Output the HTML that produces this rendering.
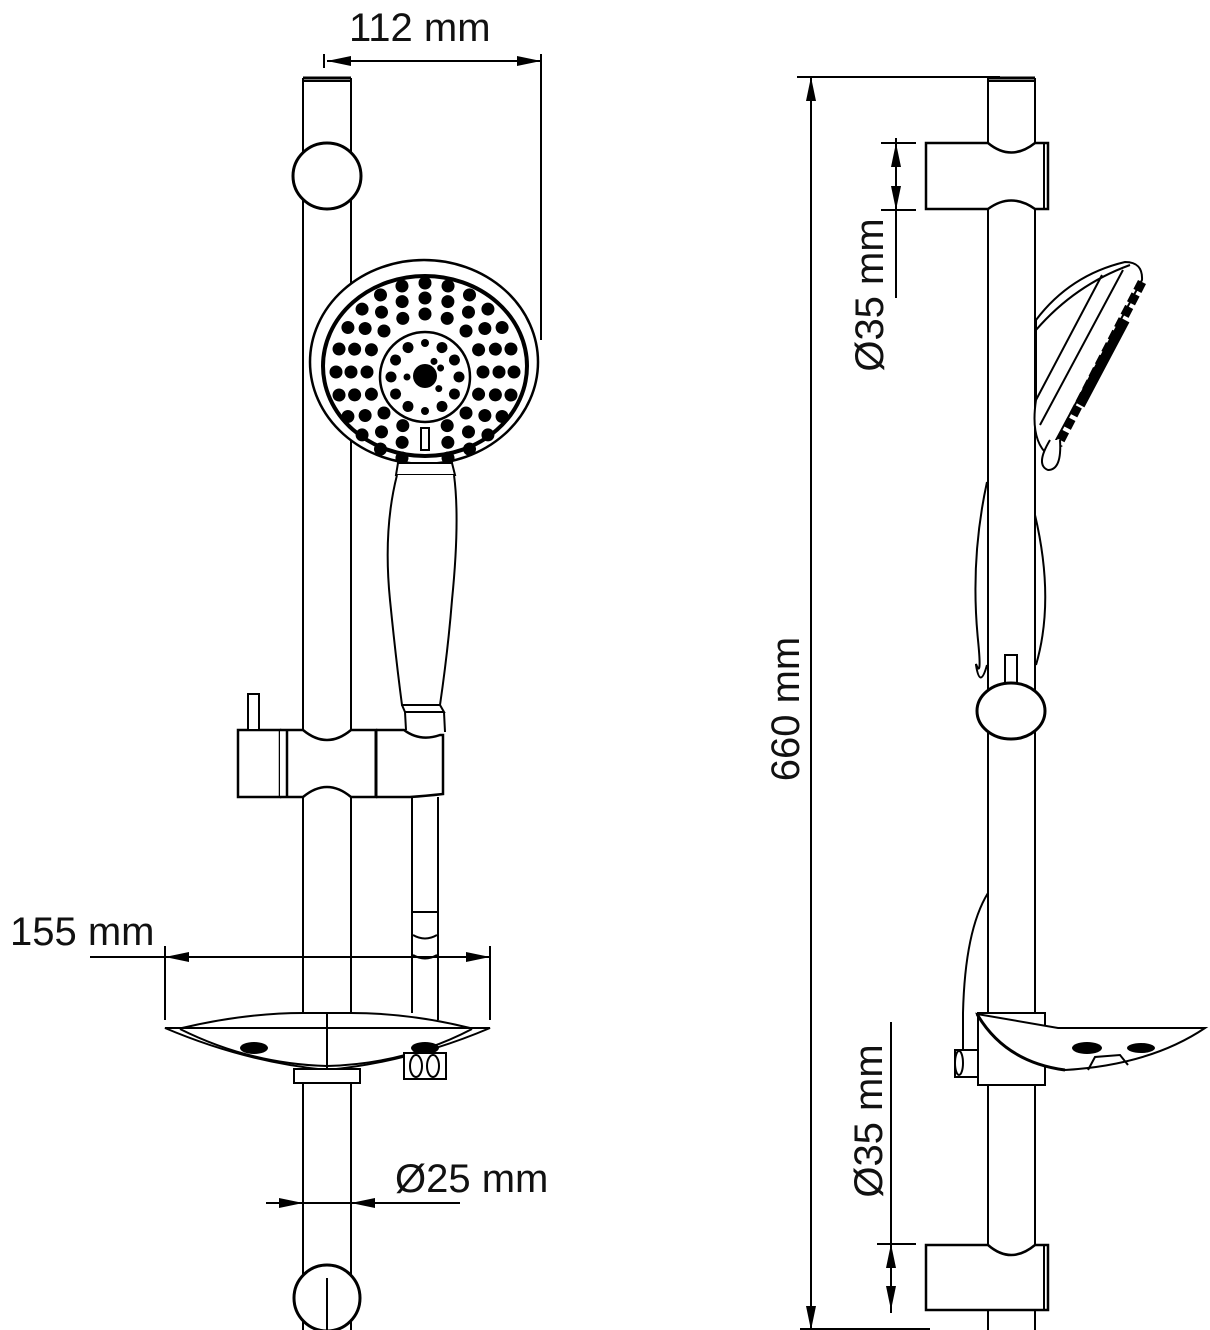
<!DOCTYPE html>
<html><head><meta charset="utf-8"><style>
html,body{margin:0;padding:0;background:#fff;}
svg{display:block;}
text{font-family:"Liberation Sans",sans-serif;font-size:40px;fill:#111;}
</style></head><body>
<svg width="1210" height="1330" viewBox="0 0 1210 1330" xmlns="http://www.w3.org/2000/svg">
<defs>
<marker id="ah" viewBox="0 0 24 10" refX="24" refY="5" markerWidth="24" markerHeight="10" markerUnits="userSpaceOnUse" orient="auto-start-reverse"><path d="M0,0 L24,5 L0,10 Z" fill="#000"/></marker>
</defs>
<g fill="none" stroke="#000" stroke-width="2">

<!-- ===== LEFT VIEW ===== -->
<line x1="303" y1="78" x2="303" y2="1013"/>
<line x1="351" y1="78" x2="351" y2="1013"/>
<line x1="303" y1="1083" x2="303" y2="1330"/>
<line x1="351" y1="1083" x2="351" y2="1330"/>
<line x1="303" y1="78" x2="351" y2="78" stroke-width="3"/>
<line x1="303" y1="81" x2="351" y2="81"/>
<ellipse cx="327" cy="176" rx="34" ry="33" fill="#fff" stroke-width="3"/>
<ellipse cx="327" cy="1298" rx="33" ry="33" fill="#fff" stroke-width="3"/>
<line x1="327" y1="1278" x2="327" y2="1330"/>

<!-- 112 dimension -->
<line x1="327" y1="61" x2="541" y2="61" marker-start="url(#ah)" marker-end="url(#ah)"/>
<line x1="541" y1="54" x2="541" y2="340"/>
<line x1="324" y1="54" x2="324" y2="68"/>

<!-- shower head -->
<ellipse cx="424" cy="362" rx="114" ry="102" fill="#fff" stroke-width="2.5"/>
<ellipse cx="425" cy="366" rx="102" ry="90" stroke-width="4"/>
<circle cx="425" cy="377" r="45" stroke-width="2.5"/>
<circle cx="425" cy="376" r="12" fill="#000" stroke="none"/>
<g fill="#000" stroke="none" transform="translate(425,372)">
 <g>
  <circle cx="58" cy="0" r="6.5"/><circle cx="58" cy="0" r="6.5" transform="rotate(22.5)"/><circle cx="58" cy="0" r="6.5" transform="rotate(45)"/><circle cx="58" cy="0" r="6.5" transform="rotate(67.5)"/>
  <circle cx="58" cy="0" r="6.5" transform="rotate(112.5)"/><circle cx="58" cy="0" r="6.5" transform="rotate(135)"/><circle cx="58" cy="0" r="6.5" transform="rotate(157.5)"/><circle cx="58" cy="0" r="6.5" transform="rotate(180)"/>
  <circle cx="58" cy="0" r="6.5" transform="rotate(202.5)"/><circle cx="58" cy="0" r="6.5" transform="rotate(225)"/><circle cx="58" cy="0" r="6.5" transform="rotate(247.5)"/><circle cx="58" cy="0" r="6.5" transform="rotate(270)"/>
  <circle cx="58" cy="0" r="6.5" transform="rotate(292.5)"/><circle cx="58" cy="0" r="6.5" transform="rotate(315)"/><circle cx="58" cy="0" r="6.5" transform="rotate(337.5)"/>
 </g>
 <g>
  <circle cx="74" cy="0" r="6.5"/><circle cx="74" cy="0" r="6.5" transform="rotate(18)"/><circle cx="74" cy="0" r="6.5" transform="rotate(36)"/><circle cx="74" cy="0" r="6.5" transform="rotate(54)"/><circle cx="74" cy="0" r="6.5" transform="rotate(72)"/>
  <circle cx="74" cy="0" r="6.5" transform="rotate(108)"/><circle cx="74" cy="0" r="6.5" transform="rotate(126)"/><circle cx="74" cy="0" r="6.5" transform="rotate(144)"/><circle cx="74" cy="0" r="6.5" transform="rotate(162)"/><circle cx="74" cy="0" r="6.5" transform="rotate(180)"/>
  <circle cx="74" cy="0" r="6.5" transform="rotate(198)"/><circle cx="74" cy="0" r="6.5" transform="rotate(216)"/><circle cx="74" cy="0" r="6.5" transform="rotate(234)"/><circle cx="74" cy="0" r="6.5" transform="rotate(252)"/><circle cx="74" cy="0" r="6.5" transform="rotate(270)"/>
  <circle cx="74" cy="0" r="6.5" transform="rotate(288)"/><circle cx="74" cy="0" r="6.5" transform="rotate(306)"/><circle cx="74" cy="0" r="6.5" transform="rotate(324)"/><circle cx="74" cy="0" r="6.5" transform="rotate(342)"/>
 </g>
 <g>
  <circle cx="89" cy="0" r="6.5"/><circle cx="89" cy="0" r="6.5" transform="rotate(15)"/><circle cx="89" cy="0" r="6.5" transform="rotate(30)"/><circle cx="89" cy="0" r="6.5" transform="rotate(45)"/><circle cx="89" cy="0" r="6.5" transform="rotate(60)"/><circle cx="89" cy="0" r="6.5" transform="rotate(75)"/>
  <circle cx="89" cy="0" r="6.5" transform="rotate(105)"/><circle cx="89" cy="0" r="6.5" transform="rotate(120)"/><circle cx="89" cy="0" r="6.5" transform="rotate(135)"/><circle cx="89" cy="0" r="6.5" transform="rotate(150)"/><circle cx="89" cy="0" r="6.5" transform="rotate(165)"/><circle cx="89" cy="0" r="6.5" transform="rotate(180)"/>
  <circle cx="89" cy="0" r="6.5" transform="rotate(195)"/><circle cx="89" cy="0" r="6.5" transform="rotate(210)"/><circle cx="89" cy="0" r="6.5" transform="rotate(225)"/><circle cx="89" cy="0" r="6.5" transform="rotate(240)"/><circle cx="89" cy="0" r="6.5" transform="rotate(255)"/><circle cx="89" cy="0" r="6.5" transform="rotate(270)"/>
  <circle cx="89" cy="0" r="6.5" transform="rotate(285)"/><circle cx="89" cy="0" r="6.5" transform="rotate(300)"/><circle cx="89" cy="0" r="6.5" transform="rotate(315)"/><circle cx="89" cy="0" r="6.5" transform="rotate(330)"/><circle cx="89" cy="0" r="6.5" transform="rotate(345)"/>
 </g>
</g>
<g fill="#000" stroke="none" transform="translate(425,377)">
  <circle cx="34" cy="0" r="5.5"/><circle cx="34" cy="0" r="5.5" transform="rotate(30)"/><circle cx="34" cy="0" r="5.5" transform="rotate(60)"/><circle cx="34" cy="0" r="4" transform="rotate(90)"/>
  <circle cx="34" cy="0" r="5.5" transform="rotate(120)"/><circle cx="34" cy="0" r="5.5" transform="rotate(150)"/><circle cx="34" cy="0" r="5.5" transform="rotate(180)"/><circle cx="34" cy="0" r="5.5" transform="rotate(210)"/>
  <circle cx="34" cy="0" r="5.5" transform="rotate(240)"/><circle cx="34" cy="0" r="4" transform="rotate(270)"/><circle cx="34" cy="0" r="5.5" transform="rotate(300)"/><circle cx="34" cy="0" r="5.5" transform="rotate(330)"/>
  <circle cx="18" cy="0" r="3.5" transform="rotate(-60)"/><circle cx="18" cy="0" r="3.5" transform="rotate(-30)"/><circle cx="18" cy="0" r="3.5" transform="rotate(180)"/><circle cx="18" cy="0" r="3.5" transform="rotate(40)"/>
</g>
<rect x="421" y="428" width="8" height="22" fill="#fff"/>
<!-- handle -->
<path d="M398,463 L452,463 L455,475 L396,475 Z" fill="#fff"/>
<path d="M397,475 Q383,530 390,600 Q396,660 402,705 L440,705 Q448,650 452,600 Q460,520 454,475" fill="#fff"/>
<path d="M402,705 L405,712 L444,712 L440,705"/>
<path d="M405,712 L406,730 M444,712 L445,732"/>
<!-- slider -->
<path d="M238,730 L238,797 L280,797 L280,730 Z" fill="#fff" stroke-width="2.5"/>
<rect x="248" y="694" width="11" height="36" fill="#fff"/>
<path d="M280,730 L303,730 Q327,750 351,730 L376,730 L376,797 L351,797 Q327,777 303,797 L280,797" fill="#fff" stroke-width="2.5"/>
<line x1="287" y1="730" x2="287" y2="797" stroke-width="2.5"/>
<path d="M376,730 L404,730 Q420,742 440,735 L443,735 L443,794 Q425,796 410,797 L376,797" fill="#fff" stroke-width="2.5"/>
<line x1="376" y1="730" x2="376" y2="797" stroke-width="3"/>
<!-- hose -->
<line x1="412" y1="797" x2="412" y2="1013"/>
<line x1="438" y1="797" x2="438" y2="1020"/>
<line x1="413" y1="912" x2="437" y2="912"/>
<path d="M413,935 Q425,942 437,935"/>
<path d="M413,955 Q425,962 437,955"/>

<!-- 155 dimension -->
<line x1="90" y1="957" x2="490" y2="957"/>
<line x1="165" y1="957" x2="198" y2="957" marker-start="url(#ah)"/>
<line x1="457" y1="957" x2="490" y2="957" marker-end="url(#ah)"/>
<line x1="165" y1="946" x2="165" y2="1020"/>
<line x1="490" y1="946" x2="490" y2="1020"/>

<!-- soap dish -->
<path d="M165,1028 L490,1028 Q410,1062 327,1070 Q245,1062 165,1028 Z" fill="#fff"/>
<path d="M182,1028 Q245,1013 303,1013 L351,1013 Q410,1013 470,1028"/>
<path d="M180,1029 Q250,1064 327,1066 Q405,1064 472,1029"/>
<line x1="327" y1="1013" x2="327" y2="1068"/>
<ellipse cx="254" cy="1048" rx="14" ry="6" fill="#000" stroke="none"/>
<ellipse cx="425" cy="1048" rx="14" ry="6" fill="#000" stroke="none"/>
<rect x="294" y="1069" width="66" height="14" fill="#fff"/>
<rect x="404" y="1053" width="42" height="26" fill="#fff"/>
<ellipse cx="416" cy="1066" rx="6" ry="11"/>
<ellipse cx="433" cy="1066" rx="6" ry="11"/>

<!-- 25 dimension -->
<line x1="266" y1="1203" x2="303" y2="1203" marker-end="url(#ah)"/>
<line x1="303" y1="1203" x2="351" y2="1203"/>
<line x1="460" y1="1203" x2="351" y2="1203" marker-end="url(#ah)"/>

<!-- ===== RIGHT VIEW ===== -->
<line x1="988" y1="78" x2="988" y2="1330"/>
<line x1="1035" y1="78" x2="1035" y2="1330"/>
<line x1="988" y1="78" x2="1035" y2="78" stroke-width="3"/>
<line x1="988" y1="81" x2="1035" y2="81"/>

<path d="M926,143 L988,143 Q1011,162 1035,143 L1048,143 L1048,209 L1035,209 Q1011,192 988,209 L926,209 Z" fill="#fff" stroke-width="2.5"/>
<line x1="1044" y1="143" x2="1044" y2="209"/>
<path d="M926,1245 L988,1245 Q1011,1265 1035,1245 L1048,1245 L1048,1310 L926,1310 Z" fill="#fff" stroke-width="2.5"/>
<line x1="1044" y1="1245" x2="1044" y2="1310"/>

<!-- head side -->
<path d="M1036,320 Q1070,275 1125,262 Q1143,262 1142,280 L1048,455 Q1030,440 1036,400 Z" fill="#fff"/>
<path d="M1036,330 Q1075,285 1130,265"/>
<line x1="1102" y1="275" x2="1036" y2="400"/>
<line x1="1123" y1="270" x2="1040" y2="425"/>
<path d="M1142,282 L1058,445" stroke-width="9" stroke-dasharray="10 4"/>
<path d="M1125,320 L1080,405" stroke-width="10"/>
<path d="M1050,440 Q1035,465 1048,470 Q1062,470 1060,440" fill="#fff"/>

<!-- handle side -->
<path d="M987,482 Q970,560 978,640 Q982,680 976,664 L976,665 Q980,690 987,665"/>
<path d="M1035,515 Q1055,600 1036,665"/>
<rect x="1005" y="655" width="12" height="28" fill="#fff"/>
<ellipse cx="1011" cy="711" rx="34" ry="28" fill="#fff" stroke-width="3"/>

<!-- soap dish side -->
<path d="M988,893 Q965,930 963,1013 L963,1050"/>
<rect x="978" y="1013" width="67" height="72" fill="#fff"/>
<path d="M977,1014 L1058,1028 L1205,1028 Q1150,1065 1065,1070 Q1005,1062 977,1014 Z" fill="#fff"/>
<path d="M977,1014 Q1005,1062 1065,1070" stroke-width="3"/>
<ellipse cx="1087" cy="1048" rx="15" ry="6" fill="#000" stroke="none"/>
<ellipse cx="1141" cy="1048" rx="14" ry="5" fill="#000" stroke="none"/>
<path d="M1088,1070 L1095,1057 L1120,1055 L1128,1065"/>
<rect x="955" y="1050" width="23" height="27" fill="#fff"/>
<ellipse cx="959" cy="1063" rx="4" ry="12"/>

<!-- 660 dimension -->
<line x1="797" y1="77" x2="1000" y2="77"/>
<line x1="811" y1="77" x2="811" y2="1330" marker-start="url(#ah)" marker-end="url(#ah)"/>
<line x1="800" y1="1329" x2="930" y2="1329"/>

<!-- top 35 -->
<line x1="881" y1="143" x2="916" y2="143"/>
<line x1="881" y1="210" x2="916" y2="210"/>
<line x1="896" y1="176" x2="896" y2="143" marker-end="url(#ah)"/>
<line x1="896" y1="176" x2="896" y2="210" marker-end="url(#ah)"/>
<line x1="896" y1="138" x2="896" y2="298"/>
<!-- bottom 35 -->
<line x1="877" y1="1244" x2="916" y2="1244"/>
<line x1="891" y1="1277" x2="891" y2="1244" marker-end="url(#ah)"/>
<line x1="891" y1="1277" x2="891" y2="1310" marker-end="url(#ah)"/>
<line x1="891" y1="1022" x2="891" y2="1313"/>
</g>

<text x="349" y="41">112 mm</text>
<text x="10" y="945">155 mm</text>
<text x="395" y="1192">Ø25 mm</text>
<text transform="translate(799,709) rotate(-90)" text-anchor="middle">660 mm</text>
<text transform="translate(883,295) rotate(-90)" text-anchor="middle">Ø35 mm</text>
<text transform="translate(882,1121) rotate(-90)" text-anchor="middle">Ø35 mm</text>
</svg>
</body></html>
